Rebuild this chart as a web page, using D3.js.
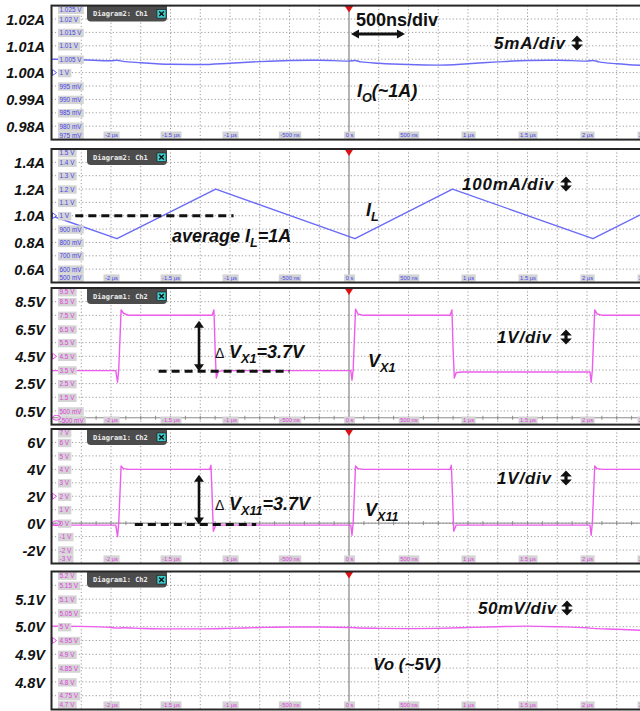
<!DOCTYPE html>
<html>
<head>
<meta charset="utf-8">
<script src="https://cdn.jsdelivr.net/npm/d3@7"></script>
<style>
  body { margin: 0; background: #fff; }
  svg { display: block; }
</style>
</head>
<body>
<script>
// ---- time base (µs) shared by all five scope views ----
const timeDomain = [-2.5, 2.5];
const timeTicks = [-2, -1.5, -1, -0.5, 0, 0.5, 1, 1.5, 2, 2.5];
const timeTickLabels = ["-2 µs", "-1.5 µs", "-1 µs", "-500 ns", "0 s", "500 ns", "1 µs", "1.5 µs", "2 µs", "2.5 µs"];

// ---- view 1: output current Io ----
const ioDomain = [0.975, 1.025];
const ioScopeLabels = ["1.025 V", "1.02 V", "1.015 V", "1.01 V", "1.005 V", "1 V", "995 mV", "990 mV", "985 mV", "980 mV", "975 mV"];
const ioOuterTicks = [1.02, 1.01, 1.00, 0.99, 0.98];
const ioOuterLabels = ["1.02A", "1.01A", "1.00A", "0.99A", "0.98A"];
const ioTime  = [-2.5, -2.25, -2.0, -1.95, -1.9, -1.75, -1.5, -1.25, -1.0, -0.75, -0.5, -0.25, 0, 0.05, 0.1, 0.25, 0.5, 0.75, 1.0, 1.25, 1.5, 1.75, 2.0, 2.05, 2.1, 2.25, 2.5];
const ioValue = [1.0050, 1.0048, 1.0044, 1.0046, 1.0042, 1.0037, 1.0031, 1.0030, 1.0035, 1.0041, 1.0045, 1.0046, 1.0043, 1.0045, 1.0040, 1.0035, 1.0030, 1.0028, 1.0033, 1.0040, 1.0045, 1.0046, 1.0043, 1.0045, 1.0040, 1.0033, 1.0026];

// ---- view 2: inductor current IL ----
const ilDomain = [0.5, 1.5];
const ilScopeLabels = ["1.5 V", "1.4 V", "1.3 V", "1.2 V", "1.1 V", "1 V", "900 mV", "800 mV", "700 mV", "600 mV", "500 mV"];
const ilOuterTicks = [1.4, 1.2, 1.0, 0.8, 0.6];
const ilOuterLabels = ["1.4A", "1.2A", "1.0A", "0.8A", "0.6A"];
const ilTime  = [-2.5, -1.95, -1.12, 0.05, 0.87, 2.05, 2.5];
const ilValue = [1.0, 0.828, 1.2, 0.828, 1.2, 0.828, 1.03];
const ilAverage = 1.0;

// ---- view 3: switch node VX1 ----
const vx1Domain = [-0.5, 9.5];
const vx1ScopeLabels = ["9.5 V", "8.5 V", "7.5 V", "6.5 V", "5.5 V", "4.5 V", "3.5 V", "2.5 V", "1.5 V", "500 mV", "-500 mV"];
const vx1OuterTicks = [8.5, 6.5, 4.5, 2.5, 0.5];
const vx1OuterLabels = ["8.5V", "6.5V", "4.5V", "2.5V", "0.5V"];
const vx1Time  = [-2.5, -1.96, -1.945, -1.935, -1.915, -1.895, -1.85, -1.15, -1.135, -1.125, -1.115, -1.10, -1.05, 0.015, 0.025, 0.035, 0.055, 0.075, 0.12, 0.85, 0.865, 0.875, 0.885, 0.90, 0.95, 2.025, 2.035, 2.045, 2.065, 2.085, 2.13, 2.5];
const vx1Value = [3.45, 3.45, 2.6, 3.5, 7.9, 7.65, 7.5, 7.5, 7.9, 5.0, 2.9, 3.4, 3.45, 3.45, 2.75, 3.5, 7.95, 7.6, 7.5, 7.5, 7.9, 5.0, 2.9, 3.3, 3.35, 3.35, 2.6, 3.5, 7.9, 7.6, 7.5, 7.5];
const vx1Swing = 3.7;
const vx1Base = 3.4;

// ---- view 4: switch node VX11 ----
const vx11Domain = [-3, 7];
const vx11ScopeLabels = ["7 V", "6 V", "5 V", "4 V", "3 V", "2 V", "1 V", "0 V", "-1 V", "-2 V", "-3 V"];
const vx11OuterTicks = [6, 4, 2, 0, -2];
const vx11OuterLabels = ["6V", "4V", "2V", "0V", "-2V"];
const vx11Time  = [-2.5, -1.96, -1.945, -1.935, -1.915, -1.895, -1.85, -1.17, -1.16, -1.15, -1.14, -1.12, 0.015, 0.025, 0.035, 0.055, 0.075, 0.12, 0.85, 0.86, 0.87, 0.88, 0.90, 2.025, 2.035, 2.045, 2.065, 2.085, 2.13, 2.5];
const vx11Value = [-0.15, -0.15, -1.0, 0.0, 4.25, 4.05, 4.0, 4.0, 4.3, 2.0, -0.6, -0.15, -0.15, -0.9, 0.0, 4.25, 4.05, 4.0, 4.0, 4.3, 2.0, -0.6, -0.15, -0.15, -0.9, 0.0, 4.25, 4.05, 4.0, 4.0];
const vx11Swing = 3.7;
const vx11Base = -0.1;

// ---- view 5: output voltage Vo ----
const voDomain = [4.7, 5.2];
const voScopeLabels = ["5.2 V", "5.15 V", "5.1 V", "5.05 V", "5 V", "4.95 V", "4.9 V", "4.85 V", "4.8 V", "4.75 V", "4.7 V"];
const voOuterTicks = [5.1, 5.0, 4.9, 4.8];
const voOuterLabels = ["5.1V", "5.0V", "4.9V", "4.8V"];
const voTime  = [-2.5, -2.25, -2.0, -1.95, -1.9, -1.75, -1.5, -1.25, -1.0, -0.75, -0.5, -0.25, 0, 0.05, 0.25, 0.5, 0.75, 1.0, 1.25, 1.5, 1.75, 2.0, 2.05, 2.25, 2.5];
const voValue = [5.002, 5.001, 4.997, 4.995, 4.996, 4.994, 4.992, 4.992, 4.994, 4.997, 4.999, 4.999, 4.997, 4.996, 4.994, 4.993, 4.994, 4.997, 5.000, 5.002, 5.000, 4.996, 4.994, 4.991, 4.986];

// ---- styling ----
const FONT = "'Liberation Sans', Arial, Helvetica, sans-serif";
const BLUE = "#6b6bf7", BLUE_TEXT = "#4646e8";
const MAGENTA = "#ee5cee", MAGENTA_TEXT = "#e03ee0";
const PLOT_LEFT = 51.5, PLOT_RIGHT = 646.5;

const svg = d3.select("body").append("svg").attr("width", 640).attr("height", 711);
svg.append("rect").attr("width", 640).attr("height", 711).attr("fill", "#fff");

const x = d3.scaleLinear().domain(timeDomain).range([PLOT_LEFT, PLOT_RIGHT]);

const layout = [
  { top: 5.6, bottom: 139.6 },
  { top: 149, bottom: 282.5 },
  { top: 288, bottom: 424.6 },
  { top: 429, bottom: 563.5 },
  { top: 571.5, bottom: 709.5 }
];

const panels = [
  { domain: ioDomain, labels: ioScopeLabels, outerTicks: ioOuterTicks, outerLabels: ioOuterLabels,
    time: ioTime, value: ioValue, color: BLUE, text: BLUE_TEXT, tab: "Diagram2: Ch1",
    curve: d3.curveMonotoneX, offset: 1.0, zero: false },
  { domain: ilDomain, labels: ilScopeLabels, outerTicks: ilOuterTicks, outerLabels: ilOuterLabels,
    time: ilTime, value: ilValue, color: BLUE, text: BLUE_TEXT, tab: "Diagram2: Ch1",
    curve: d3.curveLinear, offset: 1.0, zero: false },
  { domain: vx1Domain, labels: vx1ScopeLabels, outerTicks: vx1OuterTicks, outerLabels: vx1OuterLabels,
    time: vx1Time, value: vx1Value, color: MAGENTA, text: MAGENTA_TEXT, tab: "Diagram1: Ch2",
    curve: d3.curveLinear, offset: 4.5, zero: true },
  { domain: vx11Domain, labels: vx11ScopeLabels, outerTicks: vx11OuterTicks, outerLabels: vx11OuterLabels,
    time: vx11Time, value: vx11Value, color: MAGENTA, text: MAGENTA_TEXT, tab: "Diagram1: Ch2",
    curve: d3.curveLinear, offset: 2.0, zero: true },
  { domain: voDomain, labels: voScopeLabels, outerTicks: voOuterTicks, outerLabels: voOuterLabels,
    time: voTime, value: voValue, color: MAGENTA, text: MAGENTA_TEXT, tab: "Diagram1: Ch2",
    curve: d3.curveMonotoneX, offset: 4.95, zero: false }
];

const yScales = [];

panels.forEach((p, i) => {
  const L = layout[i];
  const y = d3.scaleLinear().domain(p.domain).range([L.bottom, L.top]);
  yScales.push(y);
  const g = svg.append("g");

  const clipId = "view-clip-" + i;
  svg.append("clipPath").attr("id", clipId)
    .append("rect").attr("x", PLOT_LEFT).attr("y", L.top)
    .attr("width", PLOT_RIGHT - PLOT_LEFT).attr("height", L.bottom - L.top);

  const inner = g.append("g").attr("clip-path", `url(#${clipId})`);
  inner.append("rect").attr("x", PLOT_LEFT).attr("y", L.top)
    .attr("width", PLOT_RIGHT - PLOT_LEFT).attr("height", L.bottom - L.top).attr("fill", "#fff");

  // dotted graticule: 10 vertical divisions, 20 horizontal steps of 250 ns
  const span = p.domain[1] - p.domain[0];
  const levelVals = d3.range(11).map(k => p.domain[1] - k * span / 10);
  inner.selectAll("line.hgrid").data(levelVals.slice(1, -1)).join("line")
    .attr("class", "hgrid")
    .attr("x1", PLOT_LEFT).attr("x2", PLOT_RIGHT)
    .attr("y1", d => y(d)).attr("y2", d => y(d))
    .attr("stroke", "#9c9c9c").attr("stroke-width", 1).attr("stroke-dasharray", "1.2,2.2");
  const gridTimes = d3.range(1, 20).map(k => timeDomain[0] + k * 0.25).filter(t => Math.abs(t) > 1e-9);
  inner.selectAll("line.vgrid").data(gridTimes).join("line")
    .attr("class", "vgrid")
    .attr("x1", d => x(d)).attr("x2", d => x(d))
    .attr("y1", L.top).attr("y2", L.bottom)
    .attr("stroke", "#9c9c9c").attr("stroke-width", 1).attr("stroke-dasharray", "1.2,2.2");

  // trigger-time centre line
  inner.append("line")
    .attr("x1", x(0)).attr("x2", x(0)).attr("y1", L.top).attr("y2", L.bottom)
    .attr("stroke", "#6a6a6a").attr("stroke-width", 1);

  // zero-volt reference axis with small ticks
  if (p.zero) {
    inner.append("line")
      .attr("x1", PLOT_LEFT).attr("x2", PLOT_RIGHT).attr("y1", y(0)).attr("y2", y(0))
      .attr("stroke", "#8a8a8a").attr("stroke-width", 1);
    inner.selectAll("line.ztick").data(d3.range(1, 40).map(k => timeDomain[0] + k * 0.125)).join("line")
      .attr("class", "ztick")
      .attr("x1", d => x(d)).attr("x2", d => x(d))
      .attr("y1", y(0) - 2).attr("y2", y(0) + 2)
      .attr("stroke", "#8a8a8a").attr("stroke-width", 1);
  }

  // scope channel scale labels (inside the view)
  const yAxis = d3.axisRight(y).tickValues(levelVals).tickSize(0).tickPadding(0)
    .tickFormat((d, k) => p.labels[k]);
  const ya = g.append("g").attr("transform", `translate(${PLOT_LEFT + 8},0)`).call(yAxis);
  ya.select(".domain").remove();
  ya.selectAll(".tick").each(function (d, k) {
    if (k === 0) d3.select(this).attr("transform", `translate(0,${L.top + 4.2})`);
    if (k === levelVals.length - 1) d3.select(this).attr("transform", `translate(0,${L.bottom - 4.2})`);
  });
  ya.selectAll("text").attr("font-family", FONT).attr("font-size", 6.4)
    .attr("fill", p.text).attr("dy", "0.34em");
  ya.selectAll(".tick").each(function () {
    const t = d3.select(this).select("text");
    const b = t.node().getBBox();
    d3.select(this).insert("rect", "text")
      .attr("x", b.x - 1.5).attr("y", -4.2).attr("width", b.width + 3).attr("height", 8.4)
      .attr("fill", "#d4d4d4");
  });

  // time labels along the bottom of the view
  const xAxis = d3.axisBottom(x).tickValues(timeTicks).tickSize(0).tickPadding(0)
    .tickFormat((d, k) => timeTickLabels[k]);
  const xa = g.append("g").attr("transform", `translate(0,${L.bottom - 4.5})`).call(xAxis);
  xa.select(".domain").remove();
  xa.selectAll("text").attr("font-family", FONT).attr("font-size", 5.8)
    .attr("fill", p.text).attr("y", 0).attr("dy", "0.34em");
  xa.selectAll(".tick").each(function () {
    const t = d3.select(this).select("text");
    const b = t.node().getBBox();
    d3.select(this).insert("rect", "text")
      .attr("x", b.x - 1.5).attr("y", -3.6).attr("width", b.width + 3).attr("height", 7.2)
      .attr("fill", "#d4d4d4");
  });

  // waveform
  const line = d3.line().x(d => x(d[0])).y(d => y(d[1])).curve(p.curve);
  inner.append("path")
    .datum(p.time.map((t, k) => [t, p.value[k]]))
    .attr("d", line)
    .attr("fill", "none").attr("stroke", p.color).attr("stroke-width", 1.4)
    .attr("stroke-linejoin", "round");

  // channel offset marker on the left edge
  g.append("path")
    .attr("d", `M${PLOT_LEFT + 1},${y(p.offset) - 3} L${PLOT_LEFT + 5},${y(p.offset)} L${PLOT_LEFT + 1},${y(p.offset) + 3} Z`)
    .attr("fill", "#fff").attr("stroke", p.text).attr("stroke-width", 0.9);
  if (p.zero) {
    g.append("ellipse").attr("cx", PLOT_LEFT + 5).attr("cy", y(0)).attr("rx", 4).attr("ry", 2.4)
      .attr("fill", "none").attr("stroke", p.text).attr("stroke-width", 0.9);
  }

  // diagram tab
  const tx0 = 87, tx1 = 167, th = 16, r = 4;
  g.append("path")
    .attr("d", `M${tx0},${L.top} L${tx1},${L.top} L${tx1},${L.top + th - r} Q${tx1},${L.top + th} ${tx1 - r},${L.top + th} L${tx0 + r},${L.top + th} Q${tx0},${L.top + th} ${tx0},${L.top + th - r} Z`)
    .attr("fill", "#4c4c4c");
  g.append("text").attr("x", 93).attr("y", L.top + 10.8)
    .attr("font-family", "'DejaVu Sans Mono', monospace").attr("font-weight", "bold")
    .attr("font-size", 7).attr("fill", "#eeeeee").text(p.tab);
  g.append("rect").attr("x", 157).attr("y", L.top + 4).attr("width", 9).attr("height", 8.5)
    .attr("fill", "#3ccfcf").attr("stroke", "#1a1a1a").attr("stroke-width", 0.6);
  g.append("path")
    .attr("d", `M159.2,${L.top + 6} L163.8,${L.top + 10.5} M163.8,${L.top + 6} L159.2,${L.top + 10.5}`)
    .attr("stroke", "#111").attr("stroke-width", 1.4);

  // trigger marker
  g.append("path")
    .attr("d", `M${x(0) - 4.5},${L.top} L${x(0) + 4.5},${L.top} L${x(0)},${L.top + 7} Z`)
    .attr("fill", "#e01010");

  // view frame
  g.append("rect").attr("x", PLOT_LEFT).attr("y", L.top)
    .attr("width", 700).attr("height", L.bottom - L.top)
    .attr("fill", "none").attr("stroke", "#262626").attr("stroke-width", 2);

  // engineering-unit labels left of the view
  const outer = d3.axisLeft(y).tickValues(p.outerTicks).tickSize(0).tickPadding(0)
    .tickFormat((d, k) => p.outerLabels[k]);
  const oa = svg.append("g").attr("transform", "translate(45,0)").call(outer);
  oa.select(".domain").remove();
  oa.selectAll("text").attr("font-family", FONT).attr("font-size", 14.5)
    .attr("font-weight", "bold").attr("font-style", "italic").attr("fill", "#111")
    .attr("dy", "0.36em");
});

// ---- annotations ----
function richText(xp, yp, parts, size) {
  const t = svg.append("text").attr("x", xp).attr("y", yp)
    .attr("font-family", FONT).attr("font-weight", "bold").attr("font-style", "italic")
    .attr("font-size", size).attr("fill", "#111");
  let shift = 0;
  parts.forEach(pt => {
    const s = t.append("tspan").text(pt.t);
    const target = pt.sub ? size * 0.26 : 0;
    if (target !== shift) { s.attr("dy", target - shift); shift = target; }
    if (pt.sub) s.attr("font-size", size * 0.7);
  });
  return t;
}

// bold up/down double arrow drawn after each "per division" label
function updown(cx, cy) {
  svg.append("path")
    .attr("d", `M${cx},${cy - 7.5} L${cx + 5.8},${cy - 1.6} L${cx + 1.6},${cy - 1.6} L${cx + 1.6},${cy + 1.6} L${cx + 5.8},${cy + 1.6} L${cx},${cy + 7.5} L${cx - 5.8},${cy + 1.6} L${cx - 1.6},${cy + 1.6} L${cx - 1.6},${cy - 1.6} L${cx - 5.8},${cy - 1.6} Z`)
    .attr("fill", "#111");
}

function arrowV(xx, y1, y2) {
  // y1 top tip, y2 bottom tip
  svg.append("line").attr("x1", xx).attr("x2", xx).attr("y1", y1 + 5).attr("y2", y2 - 5)
    .attr("stroke", "#111").attr("stroke-width", 2.6);
  svg.append("path").attr("d", `M${xx},${y1} L${xx + 5},${y1 + 7} L${xx - 5},${y1 + 7} Z`).attr("fill", "#111");
  svg.append("path").attr("d", `M${xx},${y2} L${xx + 5},${y2 - 7} L${xx - 5},${y2 - 7} Z`).attr("fill", "#111");
}

function arrowH(x1, x2, yy) {
  svg.append("line").attr("x1", x1 + 5).attr("x2", x2 - 5).attr("y1", yy).attr("y2", yy)
    .attr("stroke", "#111").attr("stroke-width", 2.8);
  svg.append("path").attr("d", `M${x1},${yy} L${x1 + 8},${yy - 4.5} L${x1 + 8},${yy + 4.5} Z`).attr("fill", "#111");
  svg.append("path").attr("d", `M${x2},${yy} L${x2 - 8},${yy - 4.5} L${x2 - 8},${yy + 4.5} Z`).attr("fill", "#111");
}

function dashed(t1, t2, yy) {
  svg.append("line").attr("x1", x(t1)).attr("x2", x(t2)).attr("y1", yy).attr("y2", yy)
    .attr("stroke", "#111").attr("stroke-width", 3).attr("stroke-dasharray", "8,5");
}

// view 1
svg.append("text").attr("x", 356).attr("y", 26)
  .attr("font-family", FONT).attr("font-weight", "bold").attr("font-size", 18)
  .attr("fill", "#111").text("500ns/div");
arrowH(x(0) + 2, x(0.47), 34);
richText(494, 49, [{ t: "5mA/div" }], 17).attr("letter-spacing", 0.8);
updown(577, 43);
richText(357, 97, [{ t: "I" }, { t: "O", sub: true }, { t: "(~1A)" }], 18);

// view 2
const yIL = yScales[1];
dashed(-2.3, -0.97, yIL(ilAverage));
richText(172, 242, [{ t: "average I" }, { t: "L", sub: true }, { t: "=1A" }], 18);
richText(366, 216, [{ t: "I" }, { t: "L", sub: true }], 18);
richText(462, 190, [{ t: "100mA/div" }], 17).attr("letter-spacing", 0.8);
updown(566, 184);

// view 3
const yV1 = yScales[2];
dashed(-1.6, -0.5, yV1(vx1Base));
arrowV(199, yV1(vx1Base + vx1Swing), yV1(vx1Base));
svg.append("text").attr("x", 215).attr("y", 358).attr("font-family", FONT)
  .attr("font-size", 14).attr("fill", "#111").text("Δ");
richText(229, 358, [{ t: "V" }, { t: "X1", sub: true }, { t: "=3.7V" }], 18);
richText(368, 367, [{ t: "V" }, { t: "X1", sub: true }], 18);
richText(497, 343, [{ t: "1V/div" }], 17).attr("letter-spacing", 0.8);
updown(566, 337);

// view 4
const yV11 = yScales[3];
dashed(-1.8, -0.78, yV11(vx11Base));
arrowV(199, yV11(vx11Base + vx11Swing), yV11(vx11Base));
svg.append("text").attr("x", 215).attr("y", 510).attr("font-family", FONT)
  .attr("font-size", 14).attr("fill", "#111").text("Δ");
richText(229, 510, [{ t: "V" }, { t: "X11", sub: true }, { t: "=3.7V" }], 18);
richText(365, 516, [{ t: "V" }, { t: "X11", sub: true }], 18);
richText(497, 484, [{ t: "1V/div" }], 17).attr("letter-spacing", 0.8);
updown(566, 478);

// view 5
richText(478, 614, [{ t: "50mV/div" }], 17).attr("letter-spacing", 0.5);
updown(567, 608);
richText(373, 670, [{ t: "Vo (~5V)" }], 17);
</script>
</body>
</html>
